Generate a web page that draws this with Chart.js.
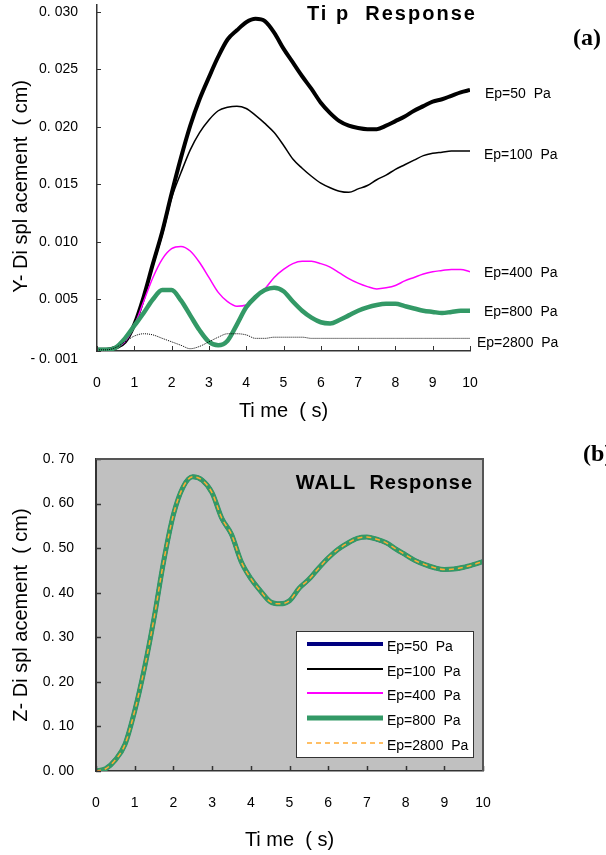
<!DOCTYPE html>
<html><head><meta charset="utf-8">
<script src="https://cdn.jsdelivr.net/npm/chart.js@4.4.1/dist/chart.umd.min.js"></script>
<style>
html,body{margin:0;padding:0;background:#fff;width:606px;height:855px;overflow:hidden}
#w1{position:absolute;left:0;top:0;width:606px;height:425px}
#w2{position:absolute;left:0;top:425px;width:606px;height:430px}
canvas{display:block}
</style></head><body>
<div id="w1"><canvas id="c1" width="606" height="425"></canvas></div>
<div id="w2"><canvas id="c2" width="606" height="430"></canvas></div>
<script>
// ---------- DATA ----------
const time = [0,0.25,0.5,0.75,1,1.25,1.5,1.75,2,2.25,2.5,2.75,3,3.25,3.5,3.75,4,4.25,4.5,4.75,5,5.25,5.5,5.75,6,6.25,6.5,6.75,7,7.25,7.5,7.75,8,8.25,8.5,8.75,9,9.25,9.5,9.75,10];
const seriesNames = ['Ep=50  Pa','Ep=100  Pa','Ep=400  Pa','Ep=800  Pa','Ep=2800  Pa'];

// (a) Tip response, Y-displacement (cm)
const tipEp50 = [0.0006,0.0006,0.0008,0.0013,0.0028,0.0052,0.0081,0.0109,0.0142,0.0173,0.0201,0.0224,0.0243,0.0261,0.0276,0.0284,0.0291,0.0294,0.0292,0.0282,0.0268,0.0256,0.0244,0.0233,0.0221,0.0212,0.0205,0.0201,0.0199,0.0198,0.0198,0.0201,0.0205,0.0209,0.0214,0.0218,0.0222,0.0224,0.0227,0.0230,0.0232];
const tipEp100 = [0.0006,0.0006,0.0008,0.0013,0.0028,0.0051,0.0079,0.0106,0.0138,0.0160,0.0180,0.0195,0.0206,0.0214,0.0217,0.0218,0.0216,0.0210,0.0203,0.0195,0.0184,0.0172,0.0164,0.0157,0.0151,0.0147,0.0144,0.0143,0.0146,0.0149,0.0154,0.0158,0.0163,0.0167,0.0171,0.0175,0.0177,0.0178,0.0179,0.0179,0.0179];
const tipEp400 = [0.0006,0.0006,0.0008,0.0013,0.0027,0.0048,0.0069,0.0085,0.0094,0.0096,0.0092,0.0082,0.0069,0.0056,0.0048,0.0044,0.0045,0.0051,0.0059,0.0069,0.0076,0.0081,0.0083,0.0083,0.0081,0.0078,0.0073,0.0068,0.0064,0.0061,0.0059,0.0060,0.0062,0.0066,0.0069,0.0072,0.0074,0.0075,0.0076,0.0076,0.0074];
const tipEp800 = [0.0006,0.0006,0.0008,0.0016,0.0027,0.0038,0.0050,0.0058,0.0058,0.0049,0.0036,0.0023,0.0013,0.0010,0.0014,0.0028,0.0043,0.0052,0.0058,0.0060,0.0057,0.0048,0.0040,0.0034,0.0030,0.0029,0.0032,0.0036,0.0040,0.0043,0.0045,0.0046,0.0046,0.0044,0.0042,0.0040,0.0039,0.0038,0.0039,0.0040,0.0040];
const tipEp2800 = [0.0006,0.0006,0.0008,0.0013,0.0018,0.0020,0.0019,0.0016,0.0013,0.0010,0.0007,0.0009,0.0013,0.0017,0.0020,0.0020,0.0019,0.0016,0.0016,0.0017,0.0017,0.0017,0.0017,0.0016,0.0016,0.0016,0.0016,0.0016,0.0016,0.0016,0.0016,0.0016,0.0016,0.0016,0.0016,0.0016,0.0016,0.0016,0.0016,0.0016,0.0016];

// (b) Wall response, Z-displacement (cm) - all five cases coincide
const wallDisp = [0,0.005,0.025,0.06,0.135,0.23,0.343,0.471,0.575,0.637,0.66,0.652,0.624,0.567,0.531,0.47,0.432,0.404,0.38,0.375,0.382,0.41,0.43,0.455,0.478,0.497,0.511,0.522,0.525,0.52,0.512,0.498,0.485,0.472,0.463,0.456,0.452,0.453,0.457,0.463,0.47];
const wallEp50 = wallDisp, wallEp100 = wallDisp, wallEp400 = wallDisp, wallEp800 = wallDisp, wallEp2800 = wallDisp;

// ticks
const timeTicks = [0,1,2,3,4,5,6,7,8,9,10];
const tipYTicks = [0.0005,0.005,0.010,0.015,0.020,0.025,0.030];
const tipYTickLabels = [['','- 0. 001'],'0. 005','0. 010','0. 015','0. 020','0. 025','0. 030'];
const wallYTicks = [0,0.1,0.2,0.3,0.4,0.5,0.6,0.7];
const wallYTickLabels = ['0. 00','0. 10','0. 20','0. 30','0. 40','0. 50','0. 60','0. 70'];

// ---------- STYLE / DRAWING ----------
const SANS = '"Liberation Sans", Arial, sans-serif';
const SERIF = '"Liberation Serif", "Times New Roman", serif';
function pts(ys){ return time.map((t,i)=>({x:t,y:ys[i]})); }

const tipStyles = [
  {color:'#000000', width:4,   dash:[],    order:4},
  {color:'#000000', width:1.5, dash:[],    order:3},
  {color:'#FF00FF', width:1.5, dash:[],    order:2},
  {color:'#339966', width:4.5, dash:[],    order:1},
  {color:'#000000', width:1,   dash:[1,1], order:0}
];
const wallStyles = [
  {color:'#000080', width:4,   dash:[],    order:4},
  {color:'#000000', width:2,   dash:[],    order:3},
  {color:'#FF00FF', width:2,   dash:[],    order:2},
  {color:'#339966', width:5,   dash:[],    order:1},
  {color:'#FFAA33', width:1.5, dash:[5,4], order:0}
];
function makeSets(arrs, styles){
  return arrs.map((a,i)=>({label:seriesNames[i], data:pts(a), borderColor:styles[i].color, backgroundColor:styles[i].color,
    borderWidth:styles[i].width, borderDash:styles[i].dash, order:styles[i].order, pointRadius:0, fill:false,
    cubicInterpolationMode:'monotone', borderJoinStyle:'round', borderCapStyle:'butt'}));
}

const inwardTicks = {
  id:'inwardTicks',
  afterDraw(chart, args, o){
    const {ctx, chartArea:a, scales:{x,y}} = chart;
    ctx.save(); ctx.strokeStyle=o.color; ctx.lineWidth=o.width||1; ctx.beginPath();
    x.ticks.forEach(t=>{ const p=Math.round(x.getPixelForValue(t.value))+0.5; ctx.moveTo(p,a.bottom); ctx.lineTo(p,a.bottom-o.xLen); });
    y.ticks.forEach(t=>{ const p=Math.round(y.getPixelForValue(t.value))+0.5; ctx.moveTo(a.left,p); ctx.lineTo(a.left+o.yLen,p); });
    ctx.stroke(); ctx.restore();
  }
};
const notes = {
  id:'notes',
  afterDraw(chart, args, o){
    const ctx = chart.ctx;
    (o.items||[]).forEach(it=>{
      ctx.save(); ctx.font=it.font; ctx.fillStyle='#000'; ctx.textAlign=it.align||'left'; ctx.textBaseline='middle';
      if ('letterSpacing' in ctx) ctx.letterSpacing = it.spacing||'0px';
      ctx.fillText(it.text, it.x, it.y); ctx.restore();
    });
  }
};
const endLabels = {
  id:'endLabels',
  afterDraw(chart, args, o){
    if (!o.enabled) return;
    const {ctx, scales:{y}} = chart;
    ctx.save(); ctx.font='14px '+SANS; ctx.fillStyle='#000'; ctx.textBaseline='middle'; ctx.textAlign='left';
    chart.data.datasets.forEach((ds,i)=>{
      const last = ds.data[ds.data.length-1].y;
      ctx.fillText(ds.label, o.x[i], y.getPixelForValue(last)+o.dy[i]);
    });
    ctx.restore();
  }
};
const plotBg = {
  id:'plotBg',
  beforeDraw(chart, args, o){
    if (!o.enabled) return;
    const {ctx, chartArea:a} = chart;
    ctx.save(); ctx.fillStyle=o.fill; ctx.fillRect(a.left,a.top,a.right-a.left,a.bottom-a.top); ctx.restore();
  },
  afterDraw(chart, args, o){
    if (!o.enabled) return;
    const {ctx, chartArea:a} = chart;
    ctx.save(); ctx.strokeStyle=o.stroke; ctx.lineWidth=2; ctx.beginPath();
    ctx.moveTo(a.left,a.top); ctx.lineTo(a.right,a.top); ctx.lineTo(a.right,a.bottom); ctx.stroke(); ctx.restore();
  }
};
const boxLegend = {
  id:'boxLegend',
  afterDraw(chart, args, o){
    if (!o.enabled) return;
    const ctx = chart.ctx;
    ctx.save();
    ctx.fillStyle='#fff'; ctx.fillRect(o.x,o.y,o.w,o.h);
    ctx.strokeStyle='#333'; ctx.lineWidth=1; ctx.strokeRect(o.x+0.5,o.y+0.5,o.w,o.h);
    ctx.font='14px '+SANS; ctx.textBaseline='middle'; ctx.textAlign='left'; ctx.fillStyle='#000';
    chart.data.datasets.forEach((ds,i)=>{
      const ly = o.rows[i];
      ctx.strokeStyle=ds.borderColor; ctx.lineWidth=ds.borderWidth; ctx.setLineDash(ds.borderDash||[]);
      ctx.beginPath(); ctx.moveTo(o.x1,ly); ctx.lineTo(o.x2,ly); ctx.stroke(); ctx.setLineDash([]);
      ctx.fillText(ds.label, o.tx, ly+3);
    });
    ctx.restore();
  }
};
Chart.register(inwardTicks, notes, endLabels, plotBg, boxLegend);

function xScale(height, titlePad){
  return {type:'linear', min:0, max:10,
    afterBuildTicks:s=>{ s.ticks = timeTicks.map(v=>({value:v})); },
    afterFit:s=>{ s.height = height; s.paddingLeft = 0; s.paddingRight = 0; },
    grid:{display:false, drawTicks:false},
    border:{display:true, color:'#333', width:1.5},
    ticks:{color:'#000', font:{family:SANS,size:14}, padding:24, maxRotation:0, autoSkip:false, callback:v=>String(v)},
    title:{display:true, text:'Ti me  ( s)', color:'#000', font:{family:SANS,size:20}, padding:{top:0,bottom:titlePad}}};
}

// ---------- CHART (a) ----------
new Chart(document.getElementById('c1'), {
  type:'line',
  data:{datasets: makeSets([tipEp50,tipEp100,tipEp400,tipEp800,tipEp2800], tipStyles)},
  options:{
    responsive:false, animation:false, devicePixelRatio:1,
    layout:{padding:{left:0,right:136,top:5,bottom:0}},
    plugins:{legend:{display:false}, tooltip:{enabled:false},
      inwardTicks:{color:'#333', xLen:5, yLen:4},
      endLabels:{enabled:true, x:[485,484,484,484,477], dy:[4,4,1,1,5]},
      notes:{items:[
        {text:'Ti p  Response', x:307, y:14, font:'bold 20px '+SANS, spacing:'2px'},
        {text:'(a)', x:573, y:39, font:'bold 24px '+SERIF}
      ]}
    },
    scales:{
      x: xScale(74, 2),
      y:{type:'linear', min:0.0005, max:0.0306,
        afterBuildTicks:s=>{ s.ticks = tipYTicks.map(v=>({value:v})); },
        afterFit:s=>{ s.width = 97; s.paddingTop = 0; s.paddingBottom = 0; },
        grid:{display:false, drawTicks:false},
        border:{display:true, color:'#333', width:1.5},
        ticks:{color:'#000', font:{family:SANS,size:14}, padding:19, autoSkip:false, callback:(v,i)=>tipYTickLabels[i]},
        title:{display:true, text:'Y- Di spl acement  ( cm)   ', color:'#000', font:{family:SANS,size:20}, padding:{top:9,bottom:0}}
      }
    }
  }
});

// ---------- CHART (b) ----------
new Chart(document.getElementById('c2'), {
  type:'line',
  data:{datasets: makeSets([wallEp50,wallEp100,wallEp400,wallEp800,wallEp2800], wallStyles)},
  options:{
    responsive:false, animation:false, devicePixelRatio:1,
    layout:{padding:{left:0,right:123,top:34,bottom:0}},
    plugins:{legend:{display:false}, tooltip:{enabled:false},
      plotBg:{enabled:true, fill:'#C0C0C0', stroke:'#555'},
      inwardTicks:{color:'#333', xLen:5, yLen:5, width:1.5},
      boxLegend:{enabled:true, x:296, y:206, w:177, h:126, x1:307, x2:383, tx:387, rows:[219,244,268,293,318]},
      notes:{items:[
        {text:'WALL  Response', x:473, y:58, font:'bold 20px '+SANS, align:'right', spacing:'1px'},
        {text:'(b)', x:583, y:30, font:'bold 24px '+SERIF}
      ]}
    },
    scales:{
      x: xScale(84, 3),
      y:{type:'linear', min:0, max:0.7,
        afterBuildTicks:s=>{ s.ticks = wallYTicks.map(v=>({value:v})); },
        afterFit:s=>{ s.width = 96; s.paddingTop = 0; s.paddingBottom = 0; },
        grid:{display:false, drawTicks:false},
        border:{display:true, color:'#333', width:2},
        ticks:{color:'#000', font:{family:SANS,size:14}, padding:22, autoSkip:false, callback:(v,i)=>wallYTickLabels[i]},
        title:{display:true, text:'Z- Di spl acement  ( cm)', color:'#000', font:{family:SANS,size:20}, padding:{top:9,bottom:0}}
      }
    }
  }
});
</script>
</body></html>
